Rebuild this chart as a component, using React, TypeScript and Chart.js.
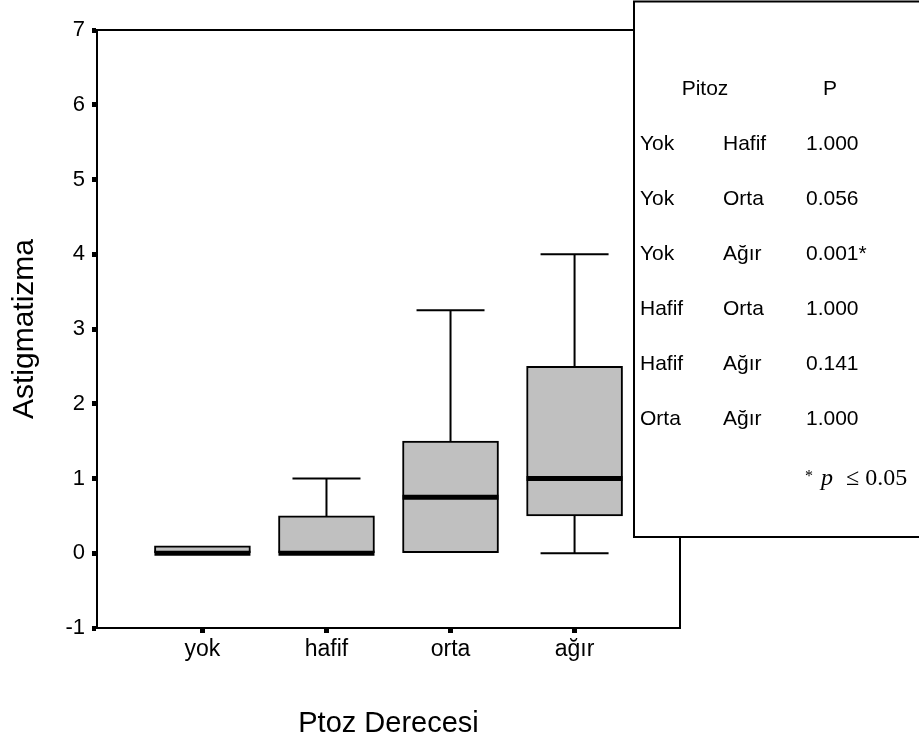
import React, { useEffect, useRef } from 'react';
import { Chart, registerables } from 'chart.js';

Chart.register(...registerables);

// ---------- data ----------
const CATEGORIES = ['yok', 'hafif', 'orta', 'ağır'];
const WHISKER_LOW = [0, 0, 0, 0];
const Q1 = [0, 0, 0, 0.5];
const MEDIAN = [0, 0, 0.75, 1];
const Q3 = [0.1, 0.5, 1.5, 2.5];
const WHISKER_HIGH = [0.1, 1, 3.25, 4];

const Y_MIN = -1;
const Y_MAX = 7;
const Y_TITLE = 'Astigmatizma';
const X_TITLE = 'Ptoz Derecesi';

const TABLE_HEADER = ['Pitoz', 'P'];
const PAIR_A = ['Yok', 'Yok', 'Yok', 'Hafif', 'Hafif', 'Orta'];
const PAIR_B = ['Hafif', 'Orta', 'Ağır', 'Orta', 'Ağır', 'Ağır'];
const P_VALUES = ['1.000', '0.056', '0.001*', '1.000', '0.141', '1.000'];
const FOOTNOTE_STAR = '*';
const FOOTNOTE_P = 'p';
const FOOTNOTE_REST = '≤ 0.05';

// ---------- style ----------
const SANS = "'Liberation Sans', Arial, Helvetica, sans-serif";
const SERIF = "'Liberation Serif', 'Times New Roman', Times, serif";
const BOX_FILL = '#c0c0c0';
const BOX_WIDTH = 96;
const CAP_WIDTH = 68;

const boxExtras = {
  id: 'boxExtras',
  afterDatasetsDraw(chart: any) {
    const { ctx, chartArea } = chart;
    const x = chart.scales.x;
    const y = chart.scales.y;
    ctx.save();
    ctx.strokeStyle = '#000';
    ctx.lineCap = 'butt';
    CATEGORIES.forEach((_, i) => {
      const cx = x.getPixelForValue(i + 1);
      ctx.lineWidth = 2;
      if (WHISKER_HIGH[i] > Q3[i]) {
        const yt = y.getPixelForValue(WHISKER_HIGH[i]);
        const yb = y.getPixelForValue(Q3[i]);
        ctx.beginPath();
        ctx.moveTo(cx, yb);
        ctx.lineTo(cx, yt);
        ctx.moveTo(cx - CAP_WIDTH / 2, yt);
        ctx.lineTo(cx + CAP_WIDTH / 2, yt);
        ctx.stroke();
      }
      if (WHISKER_LOW[i] < Q1[i]) {
        const yb = y.getPixelForValue(WHISKER_LOW[i]);
        const yt = y.getPixelForValue(Q1[i]);
        ctx.beginPath();
        ctx.moveTo(cx, yt);
        ctx.lineTo(cx, yb);
        ctx.moveTo(cx - CAP_WIDTH / 2, yb);
        ctx.lineTo(cx + CAP_WIDTH / 2, yb);
        ctx.stroke();
      }
      const ym = y.getPixelForValue(MEDIAN[i]);
      ctx.lineWidth = 5;
      ctx.beginPath();
      ctx.moveTo(cx - BOX_WIDTH / 2, ym);
      ctx.lineTo(cx + BOX_WIDTH / 2, ym);
      ctx.stroke();
    });
    // top and right frame
    ctx.lineWidth = 2;
    ctx.beginPath();
    ctx.moveTo(chartArea.left, chartArea.top);
    ctx.lineTo(chartArea.right, chartArea.top);
    ctx.lineTo(chartArea.right, chartArea.bottom);
    ctx.stroke();
    ctx.restore();
  },
  afterDraw(chart: any) {
    const { ctx } = chart;
    ctx.save();
    // table box
    ctx.fillStyle = '#fff';
    ctx.fillRect(634, 1.5, 300, 535.5);
    ctx.strokeStyle = '#000';
    ctx.lineWidth = 2;
    ctx.strokeRect(634, 1.5, 300, 535.5);

    ctx.fillStyle = '#000';
    ctx.font = `21px ${SANS}`;
    ctx.textBaseline = 'middle';
    ctx.textAlign = 'center';
    ctx.fillText(TABLE_HEADER[0], 705, 89);
    ctx.fillText(TABLE_HEADER[1], 830, 89);
    ctx.textAlign = 'left';
    PAIR_A.forEach((a, i) => {
      const ry = 144.5 + i * 54.9;
      ctx.fillText(a, 640, ry);
      ctx.fillText(PAIR_B[i], 723, ry);
      ctx.fillText(P_VALUES[i], 806, ry);
    });
    // footnote
    ctx.textBaseline = 'alphabetic';
    ctx.font = `16px ${SERIF}`;
    ctx.fillText(FOOTNOTE_STAR, 805, 481);
    ctx.font = `italic 24px ${SERIF}`;
    ctx.fillText(FOOTNOTE_P, 821, 485);
    ctx.font = `24px ${SERIF}`;
    ctx.fillText(FOOTNOTE_REST, 846, 485);
    ctx.restore();
  },
};

export default function App() {
  const canvasRef = useRef<HTMLCanvasElement | null>(null);

  useEffect(() => {
    const canvas = canvasRef.current;
    if (!canvas) return;
    const chart = new Chart(canvas, {
      type: 'bar',
      data: {
        datasets: [
          {
            label: 'Astigmatizma',
            data: CATEGORIES.map((_, i) => ({ x: i + 1, y: [Q1[i], Q3[i]] })) as any,
            backgroundColor: BOX_FILL,
            borderColor: '#000',
            borderWidth: 2,
            borderSkipped: false,
            barThickness: BOX_WIDTH,
          },
        ],
      },
      options: {
        animation: false,
        responsive: false,
        devicePixelRatio: 1,
        layout: { padding: { top: 30, right: 239, left: 0, bottom: 0 } },
        plugins: {
          legend: { display: false },
          tooltip: { enabled: false },
          title: { display: false },
        },
        scales: {
          x: {
            type: 'linear',
            min: 0.15,
            max: 4.85,
            offset: false,
            afterBuildTicks: (scale: any) => {
              scale.ticks = CATEGORIES.map((_, i) => ({ value: i + 1 }));
            },
            afterFit: (scale: any) => {
              scale.height = 114;
            },
            ticks: {
              color: '#000',
              font: { family: SANS, size: 23 },
              padding: 3,
              maxRotation: 0,
              autoSkip: false,
              callback: (v: any) => CATEGORIES[Math.round(Number(v)) - 1] ?? '',
            },
            grid: {
              offset: false,
              drawOnChartArea: false,
              drawTicks: true,
              tickLength: 5,
              tickWidth: 5,
              tickColor: '#000',
            },
            border: { display: true, color: '#000', width: 2 },
            title: {
              display: true,
              text: X_TITLE,
              color: '#000',
              font: { family: SANS, size: 29 },
              padding: { top: 0, bottom: 1 },
            },
          },
          y: {
            type: 'linear',
            min: Y_MIN,
            max: Y_MAX,
            afterFit: (scale: any) => {
              scale.width = 97;
            },
            ticks: {
              stepSize: 1,
              color: '#000',
              font: { family: SANS, size: 22 },
              padding: 7,
            },
            grid: {
              drawOnChartArea: false,
              drawTicks: true,
              tickLength: 5,
              tickWidth: 5,
              tickColor: '#000',
            },
            border: { display: true, color: '#000', width: 2 },
            title: {
              display: true,
              text: Y_TITLE,
              color: '#000',
              font: { family: SANS, size: 30 },
              padding: { top: 7, bottom: 0 },
            },
          },
        },
      } as any,
      plugins: [boxExtras],
    });
    return () => chart.destroy();
  }, []);

  return (
    <div style={{ position: 'fixed', left: 0, top: 0, width: 919, height: 742, background: '#fff' }}>
      <canvas ref={canvasRef} width={919} height={742} style={{ display: 'block' }} />
    </div>
  );
}
